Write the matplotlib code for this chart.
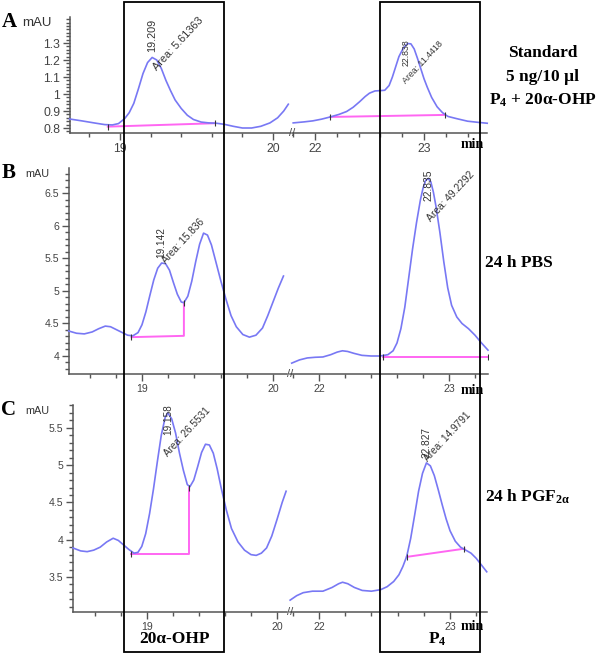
import numpy as np
import matplotlib.pyplot as plt
from matplotlib.patches import Rectangle
from matplotlib.ticker import MultipleLocator, FormatStrFormatter

plt.rcParams['font.family'] = ['Liberation Sans', 'DejaVu Sans']
plt.rcParams['mathtext.fontset'] = 'custom'
plt.rcParams['mathtext.rm'] = 'Liberation Serif:bold'
plt.rcParams['mathtext.it'] = 'Liberation Serif:bold'
plt.rcParams['mathtext.bf'] = 'Liberation Serif:bold'

# ---- chromatogram data (time in min, signal in mAU) ----
# A: standard
a_left_t = [18.67, 18.75, 18.83, 18.90, 18.95, 18.99, 19.03, 19.06, 19.09, 19.12, 19.15,
            19.18, 19.21, 19.24, 19.27, 19.30, 19.33, 19.36, 19.40, 19.44, 19.48, 19.53,
            19.58, 19.63, 19.68, 19.74, 19.80, 19.86, 19.92, 19.98, 20.03, 20.07, 20.10]
a_left_v = [0.853, 0.842, 0.830, 0.820, 0.818, 0.826, 0.855, 0.890, 0.945, 1.030, 1.120,
            1.185, 1.215, 1.200, 1.150, 1.080, 1.020, 0.965, 0.915, 0.875, 0.850, 0.835,
            0.830, 0.828, 0.822, 0.810, 0.800, 0.800, 0.810, 0.830, 0.860, 0.900, 0.940]
a_right_t = [21.80, 21.90, 21.98, 22.06, 22.14, 22.22, 22.29, 22.35, 22.41, 22.46, 22.50,
             22.55, 22.60, 22.64, 22.68, 22.71, 22.74, 22.77, 22.81, 22.85, 22.88, 22.91,
             22.94, 22.97, 23.00, 23.03, 23.07, 23.12, 23.17, 23.22, 23.30, 23.40, 23.50, 23.58]
a_right_v = [0.830, 0.836, 0.842, 0.852, 0.865, 0.880, 0.897, 0.922, 0.955, 0.985, 1.005,
             1.018, 1.020, 1.022, 1.050, 1.100, 1.160, 1.220, 1.270, 1.297, 1.295, 1.265,
             1.210, 1.150, 1.090, 1.040, 0.980, 0.925, 0.890, 0.868, 0.855, 0.840, 0.833, 0.828]
a_base_left = ([18.92, 19.62], [0.808, 0.828])
a_base_right = ([22.14, 23.19], [0.865, 0.877])

# B: 24 h PBS
b_left_t = [18.44, 18.50, 18.56, 18.62, 18.67, 18.72, 18.76, 18.80, 18.85, 18.89, 18.93,
            18.97, 19.00, 19.03, 19.06, 19.09, 19.12, 19.15, 19.18, 19.21, 19.24, 19.27,
            19.30, 19.32, 19.35, 19.38, 19.41, 19.44, 19.47, 19.50, 19.53, 19.56, 19.60,
            19.64, 19.68, 19.72, 19.77, 19.82, 19.87, 19.92, 19.96, 20.00, 20.04, 20.08]
b_left_v = [4.385, 4.35, 4.34, 4.37, 4.42, 4.46, 4.45, 4.41, 4.36, 4.32, 4.31,
            4.36, 4.48, 4.68, 4.93, 5.17, 5.35, 5.43, 5.42, 5.32, 5.13, 4.95,
            4.83, 4.82, 4.92, 5.15, 5.45, 5.72, 5.89, 5.86, 5.71, 5.48, 5.17,
            4.88, 4.62, 4.45, 4.33, 4.29, 4.32, 4.43, 4.62, 4.83, 5.04, 5.23]
b_right_t = [21.79, 21.85, 21.91, 21.97, 22.03, 22.09, 22.14, 22.18, 22.22, 22.27, 22.33,
             22.40, 22.47, 22.53, 22.57, 22.60, 22.63, 22.66, 22.69, 22.72, 22.75, 22.78,
             22.80, 22.82, 22.84, 22.86, 22.88, 22.90, 22.93, 22.96, 22.99, 23.02, 23.06,
             23.10, 23.15, 23.20, 23.25, 23.30]
b_right_v = [3.89, 3.94, 3.97, 3.98, 3.985, 4.02, 4.06, 4.08, 4.07, 4.04, 4.01,
             4.00, 4.00, 4.02, 4.08, 4.20, 4.42, 4.75, 5.20, 5.65, 6.05, 6.40,
             6.58, 6.70, 6.73, 6.68, 6.52, 6.30, 5.90, 5.45, 5.05, 4.78, 4.60,
             4.50, 4.42, 4.32, 4.20, 4.09]
b_base_left = ([18.92, 19.32, 19.32], [4.29, 4.31, 4.82])
b_base_right = ([22.49, 23.30], [3.985, 3.985])

# C: 24 h PGF2a
c_left_t = [18.43, 18.49, 18.54, 18.59, 18.64, 18.69, 18.74, 18.78, 18.82, 18.86, 18.90,
            18.93, 18.96, 18.99, 19.02, 19.05, 19.08, 19.11, 19.14, 19.16, 19.19, 19.22,
            19.25, 19.28, 19.31, 19.33, 19.36, 19.39, 19.42, 19.45, 19.48, 19.51, 19.54,
            19.57, 19.61, 19.65, 19.70, 19.75, 19.80, 19.84, 19.88, 19.92, 19.96, 20.00,
            20.04, 20.07]
c_left_v = [3.89, 3.85, 3.84, 3.86, 3.90, 3.97, 4.02, 3.99, 3.93, 3.87, 3.82,
            3.83, 3.91, 4.08, 4.35, 4.68, 5.05, 5.40, 5.64, 5.70, 5.62, 5.43,
            5.16, 4.93, 4.74, 4.71, 4.80, 4.98, 5.17, 5.28, 5.27, 5.16, 4.95,
            4.70, 4.40, 4.15, 3.97, 3.86, 3.80, 3.79, 3.82, 3.89, 4.05, 4.27,
            4.50, 4.65]
c_right_t = [21.78, 21.83, 21.88, 21.95, 22.03, 22.10, 22.15, 22.18, 22.22, 22.27, 22.33,
             22.40, 22.47, 22.52, 22.57, 22.61, 22.64, 22.67, 22.70, 22.73, 22.76, 22.79,
             22.82, 22.85, 22.88, 22.91, 22.94, 22.97, 23.00, 23.04, 23.08, 23.12, 23.16,
             23.20, 23.24, 23.28]
c_right_v = [3.19, 3.25, 3.29, 3.31, 3.31, 3.36, 3.41, 3.43, 3.41, 3.36, 3.32,
             3.31, 3.33, 3.37, 3.44, 3.53, 3.64, 3.78, 4.02, 4.33, 4.65, 4.89,
             5.03, 4.99, 4.86, 4.67, 4.47, 4.28, 4.12, 3.98, 3.90, 3.86, 3.82,
             3.75, 3.66, 3.57]
c_base_left = ([18.88, 19.32, 19.32], [3.81, 3.81, 4.69])
c_base_right = ([22.67, 23.11], [3.77, 3.88])

# peak annotations: (retention time, area)
a_peaks = [('19.209', '5.61363'), ('22.838', '11.4418')]
b_peaks = [('19.142', '15.836'), ('22.835', '49.2292')]
c_peaks = [('19.158', '26.5531'), ('22.827', '14.9791')]

y_major_a = [0.8, 0.9, 1.0, 1.1, 1.2, 1.3]
y_major_b = [4.0, 4.5, 5.0, 5.5, 6.0, 6.5]
y_major_c = [3.5, 4.0, 4.5, 5.0, 5.5]

# ---- layout helpers (pixel coordinates of the 600x656 picture) ----
W, H = 600, 656
BLUE = '#7878f4'
PINK = '#ff66f2'
AXC = '#555555'


def px_box(x0, y0, x1, y1):
    return [x0 / W, 1 - y1 / H, (x1 - x0) / W, (y1 - y0) / H]


def ftxt(x, y, s, **kw):
    fig.text(x / W, 1 - y / H, s, **kw)


def peak_label(ax, t, v, rt, area, rt_off, area_off, size):
    i = int(np.argmin(np.abs(np.asarray(t) - float(rt))))
    xy = (t[i], v[i])
    ax.annotate(rt, xy, xytext=rt_off, textcoords='offset pixels', rotation=90,
                ha='center', va='bottom', fontsize=size, color='#333333', zorder=5)
    ax.annotate('Area: ' + area, xy, xytext=area_off, textcoords='offset pixels',
                rotation=47, rotation_mode='anchor', ha='left', va='bottom',
                fontsize=size, color='#333333', zorder=5)


def style_axis(ax, ylim, xlim, first, yticks, yminor, fs):
    ax.set_facecolor('none')
    ax.set_xlim(*xlim)
    ax.set_ylim(*ylim)
    for s in ['top', 'right']:
        ax.spines[s].set_visible(False)
    ax.spines['bottom'].set_color(AXC)
    ax.spines['bottom'].set_linewidth(1.1)
    ax.xaxis.set_major_locator(MultipleLocator(1))
    ax.xaxis.set_minor_locator(MultipleLocator(0.2))
    ax.xaxis.set_major_formatter(FormatStrFormatter('%d'))
    ax.tick_params(axis='x', which='both', colors=AXC, labelcolor='#444444',
                   labelsize=fs, pad=2, width=1)
    ax.tick_params(axis='x', which='major', length=5)
    ax.tick_params(axis='x', which='minor', length=3)
    if first:
        ax.spines['left'].set_color(AXC)
        ax.spines['left'].set_linewidth(1.1)
        ax.set_yticks(yticks)
        ax.set_yticklabels(['%g' % y for y in yticks])
        ax.yaxis.set_minor_locator(MultipleLocator(yminor))
        ax.tick_params(axis='y', which='both', colors=AXC, labelcolor='#444444',
                       labelsize=fs, pad=2, width=1)
        ax.tick_params(axis='y', which='major', length=5)
        ax.tick_params(axis='y', which='minor', length=3)
    else:
        ax.spines['left'].set_visible(False)
        ax.set_yticks([])
        ax.text(0, 0, '//', transform=ax.transAxes, ha='center', va='center',
                fontsize=8, color='#444444', clip_on=False)


fig = plt.figure(figsize=(6, 6.56), dpi=100)

panels = [
    dict(letter='A', top=17, bottom=133, lx=(70, 290), rx=(292, 487),
         left=(a_left_t, a_left_v), right=(a_right_t, a_right_v),
         bl=a_base_left, br=a_base_right, peaks=a_peaks,
         ylim=(0.7706, 1.453), xl=(18.673, 20.111), xr=(21.789, 23.578),
         yt=y_major_a, ym=0.02, fs=8.8, tag_y=22, min_y=145, mau=9.5,
         offs=[((0, 5), (6, -15), 7.8), ((-2, -22), (0, -42), 6.3)]),
    dict(letter='B', top=168, bottom=374, lx=(69, 287), rx=(290, 488),
         left=(b_left_t, b_left_v), right=(b_right_t, b_right_v),
         bl=b_base_left, br=b_base_right, peaks=b_peaks,
         ylim=(3.723, 6.892), xl=(18.443, 20.107), xr=(21.777, 23.30),
         yt=y_major_b, ym=0.1, fs=7.6, tag_y=173, min_y=390, mau=7.8,
         offs=[((0, 5), (6, -2), 7.2), ((0, -22), (4, -45), 7.4)]),
    dict(letter='C', top=405, bottom=612, lx=(73, 287), rx=(290, 487),
         left=(c_left_t, c_left_v), right=(c_right_t, c_right_v),
         bl=c_base_left, br=c_base_right, peaks=c_peaks,
         ylim=(3.031, 5.806), xl=(18.431, 20.077), xr=(21.779, 23.282),
         yt=y_major_c, ym=0.1, fs=7.6, tag_y=410, min_y=626, mau=7.8,
         offs=[((0, -22), (2, -45), 7.2), ((0, 5), (3, 0), 7.3)]),
]

for p in panels:
    axl = fig.add_axes(px_box(p['lx'][0], p['top'], p['lx'][1], p['bottom']))
    axr = fig.add_axes(px_box(p['rx'][0], p['top'], p['rx'][1], p['bottom']))
    style_axis(axl, p['ylim'], p['xl'], True, p['yt'], p['ym'], p['fs'])
    style_axis(axr, p['ylim'], p['xr'], False, p['yt'], p['ym'], p['fs'])
    for ax, (t, v), base, pk, off in [(axl, p['left'], p['bl'], p['peaks'][0], p['offs'][0]),
                                      (axr, p['right'], p['br'], p['peaks'][1], p['offs'][1])]:
        ax.plot(t, v, color=BLUE, lw=1.2, clip_on=False, zorder=3)
        ax.plot(base[0], base[1], color=PINK, lw=1.4, zorder=2)
        ax.plot([base[0][0], base[0][-1]], [base[1][0], base[1][-1]], ls='none',
                marker='|', ms=4, color='#333333', mew=0.8, zorder=4)
        peak_label(ax, t, v, pk[0], pk[1], off[0], off[1], off[2])
    ftxt(9, p['tag_y'], p['letter'], family='Liberation Serif', weight='bold',
         fontsize=15, ha='center', va='center')
    ftxt(37, p['tag_y'] + 1, 'mAU', fontsize=p['mau'], color='#333333',
         ha='center', va='center')
    ftxt(472, p['min_y'], 'min', family='Liberation Serif', weight='bold',
         fontsize=10, ha='center', va='center')

# compound windows
for x0 in (124, 380):
    fig.add_artist(Rectangle((x0 / W, 1 - 652 / H), 100 / W, 650 / H,
                             transform=fig.transFigure, fill=False,
                             ec='black', lw=1.3, zorder=10))

serif = dict(family='Liberation Serif', weight='bold', fontsize=12.5)
ftxt(543, 53, 'Standard', ha='center', va='center', **serif)
ftxt(543, 77, '5 ng/10 µl', ha='center', va='center', **serif)
ftxt(543, 100, 'P$_4$ + 20α-OHP', ha='center', va='center', **serif)
ftxt(485, 263, '24 h PBS', ha='left', va='center', **serif)
ftxt(485, 497, '24 h PGF$_{2α}$', ha='left', va='center', **serif)
ftxt(174, 639, '20α-OHP', ha='center', va='center', **serif)
ftxt(437, 639, 'P$_4$', ha='center', va='center', **serif)

fig.savefig('out.png', dpi=100)
